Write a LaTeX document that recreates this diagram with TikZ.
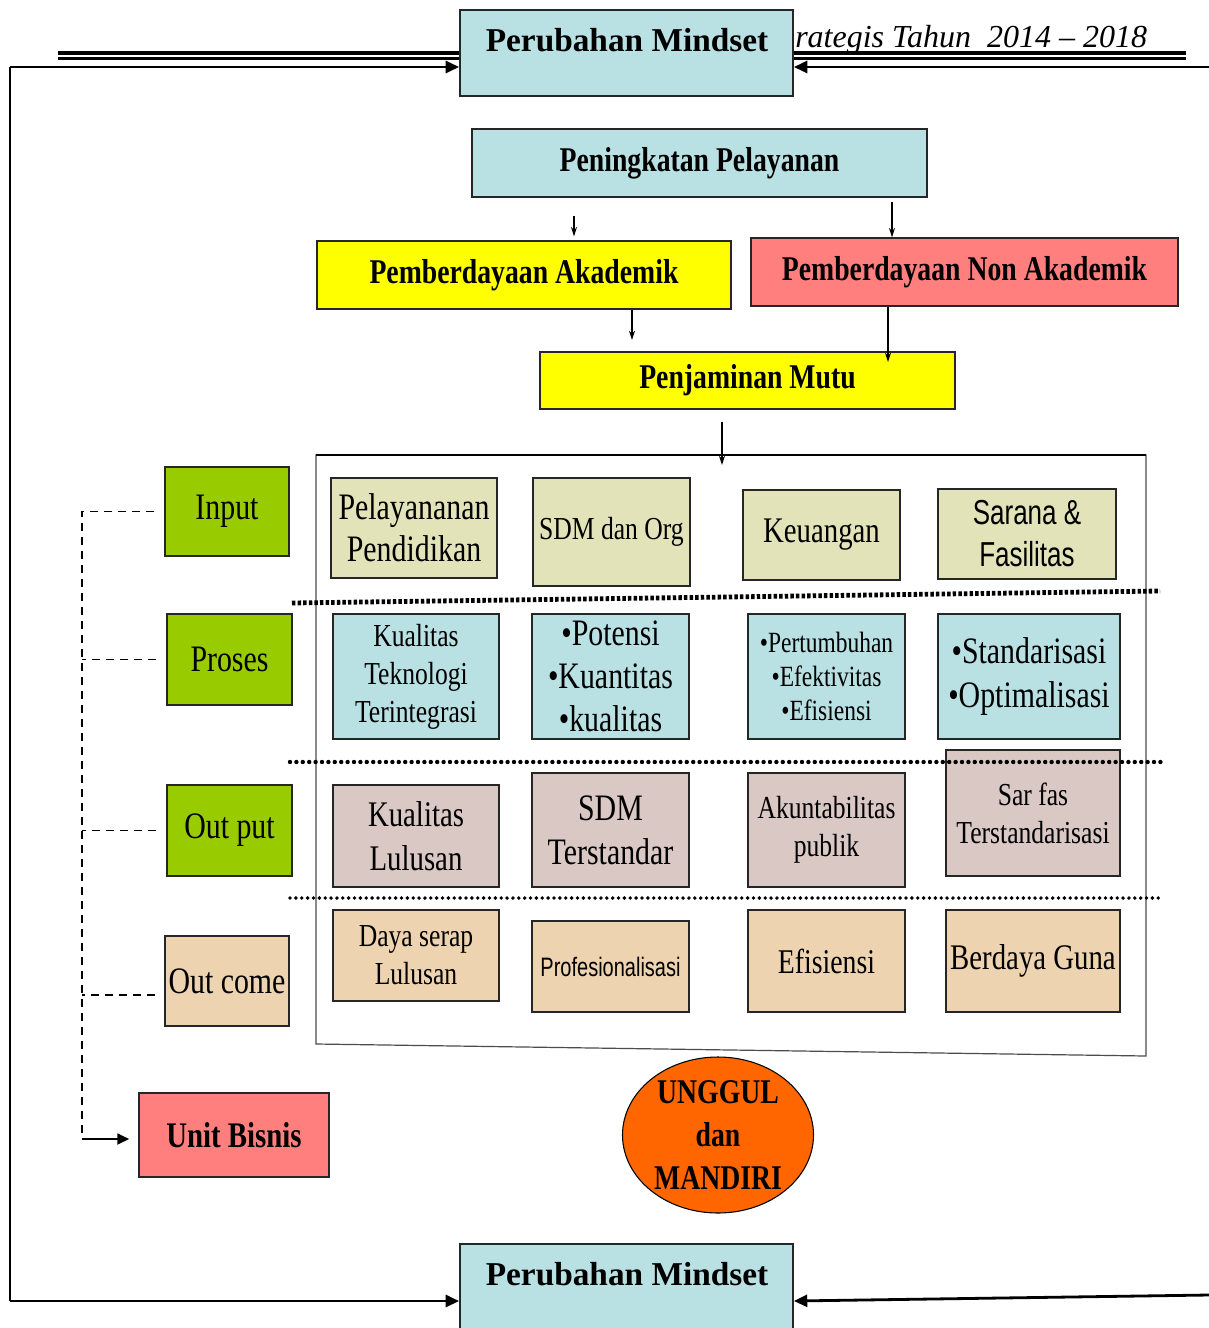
\documentclass[tikz,border=0pt]{standalone}
\usepackage{fontspec}
\setmainfont{Liberation Serif}
\newfontfamily\cond[FakeStretch=0.8]{Liberation Serif}
\newfontfamily\condsans[FakeStretch=0.75]{Liberation Sans}
\usetikzlibrary{arrows.meta,shapes.geometric}

\definecolor{cyanbox}{HTML}{B9E0E3}
\definecolor{olivebox}{HTML}{E3E3B9}
\definecolor{tanbox}{HTML}{EDD3AF}
\definecolor{mauvebox}{HTML}{D9C8C4}
\definecolor{greenbox}{HTML}{99CC00}
\definecolor{pinkbox}{HTML}{FF7F7F}
\definecolor{orangebox}{HTML}{FF6600}
\definecolor{yellowbox}{HTML}{FFFF00}

\newcommand\fsz[2]{\fontsize{#1}{#2}\selectfont}
\newcommand\bx[8]{\node[box,fill=#6,minimum width={(#4-#2)*0.75pt},minimum height={(#5-#3)*0.75pt},#7] (#1) at ({(#2+#4)/2},{(#3+#5)/2}) {#8};}

\begin{document}
\begin{tikzpicture}[x=0.75pt,y=-0.75pt,
  box/.style={draw=black!85,line width=1pt,inner sep=0pt,align=center,font=\cond},
  arr/.style={-{Stealth[length=7pt,width=4.5pt]},line width=0.8pt},
  bigarr/.style={-{Triangle[length=10pt,width=9pt]},line width=2.1pt},
  dashc/.style={dash pattern=on 6pt off 4.5pt,line width=1.4pt}]

\path[use as bounding box, fill=white] (0,0) rectangle (1209,1328);
\clip (0,0) rectangle (1209,1328);

% header rule and running title
\draw[line width=2.8pt] (58,53) -- (1186,53);
\draw[line width=1.6pt] (58,58.5) -- (1186,58.5);
\node[anchor=base west,font=\itshape\fsz{24}{28},inner sep=0pt] (hdr) at (795,47) {rategis Tahun\ \ 2014 – 2018};

% Perubahan Mindset boxes
\bx{pmtop}{460}{10}{793}{96}{cyanbox}{line width=1.4pt}{}
\node[font=\bfseries\fsz{25}{30}] (pmtoptxt) at (627,40) {Perubahan Mindset};
\bx{pmbot}{460}{1244}{793}{1340}{cyanbox}{line width=1.4pt}{}
\node[font=\bfseries\fsz{25}{30}] (pmbottxt) at (627,1274) {Perubahan Mindset};

% loop arrows
\coordinate (lt) at (10,67);
\coordinate (lb) at (10,1301);
\coordinate (rt) at (1209,67);
\coordinate (rb) at (1209,1295);
\draw[line width=2.1pt] (lt) -- (lb);
\draw[bigarr] (lt) -- (pmtop.west |- lt);
\draw[bigarr] (lb) -- (pmbot.west |- lb);
\draw[bigarr] (rt) -- (pmtop.east |- rt);
\coordinate (pmbe) at (pmbot.east |- lb);
\draw[bigarr] (rb) -- (pmbe);

% top chain
\bx{pp}{472}{129}{927}{197}{cyanbox}{font=\cond\bfseries\fsz{26}{30}}{Peningkatan Pelayanan}
\bx{pa}{317}{241}{731}{309}{yellowbox}{font=\cond\bfseries\fsz{26}{30}}{Pemberdayaan Akademik}
\bx{pna}{751}{238}{1178}{306}{pinkbox}{font=\cond\bfseries\fsz{26}{30}}{Pemberdayaan Non Akademik}
\bx{pmu}{540}{352}{955}{409}{yellowbox}{font=\cond\bfseries\fsz{26}{30}}{Penjaminan Mutu}

\coordinate (a1) at (574,0);
\coordinate (a2) at (892,0);
\coordinate (a3e) at (632,340);
\coordinate (a4e) at (888,362);
\coordinate (a5e) at (722,465);
\draw[arr,shorten <=13.5pt,shorten >=3pt] (pp.south -| a1) -- (pa.north -| a1);
\draw[arr,shorten <=3.5pt] (pp.south -| a2) -- (pna.north -| a2);
\draw[arr] (pa.south -| a3e) -- (a3e);
\draw[arr] (pna.south -| a4e) -- (a4e);
\draw[arr,shorten <=9pt] (pmu.south -| a5e) -- (a5e);

% big frame
\draw[line width=0.9pt,black!70] (316,455) -- (1146,455) -- (1146,1056) -- (316,1044) -- cycle;
\draw[line width=1.2pt] (316,455) -- (1146,455);

% left labels
\bx{inp}{165}{467}{289}{556}{greenbox}{font=\cond\fsz{28}{32}}{Input}
\bx{pro}{167}{614}{292}{705}{greenbox}{font=\cond\fsz{28}{32}}{Proses}
\bx{out}{167}{785}{292}{876}{greenbox}{font=\cond\fsz{28}{32}}{Out put}
\bx{oc}{165}{936}{289}{1026}{tanbox}{font=\cond\fsz{28}{32}}{Out come}
\bx{ub}{139}{1093}{329}{1177}{pinkbox}{font=\cond\bfseries\fsz{27}{32}}{Unit Bisnis}

% dashed bracket
\coordinate (dtop) at (82,516);
\coordinate (dbot) at (82,1139);
\coordinate (d4) at (82,995);
\coordinate (d4e) at (155,995);
\draw[dashc,shorten <=7.5pt] (inp.west) -- (inp.west -| dtop) -- (dbot);
\draw[dashc,shorten <=7.5pt] (pro.west) -- (pro.west -| dtop);
\draw[dashc,shorten <=7.5pt] (out.west) -- (out.west -| dtop);
\draw[dashc] (d4e) -- (d4);
\draw[-{Triangle[length=9pt,width=8pt]},line width=2pt,shorten >=6.75pt] (dbot) -- (ub.west |- dbot);

% input row
\bx{i1}{331}{478}{497}{578}{olivebox}{font=\cond\fsz{28}{31.5}}{Pelayananan\\Pendidikan}
\bx{i2}{533}{478}{690}{586}{olivebox}{font=\cond\fsz{24}{28}}{SDM dan Org}
\bx{i3}{743}{490}{900}{580}{olivebox}{font=\cond\fsz{27}{31}}{Keuangan}
\bx{i4}{938}{489}{1116}{579}{olivebox}{font=\condsans\fsz{26}{31.5}}{Sarana \&\\Fasilitas}

% process row
\bx{p1}{333}{614}{499}{739}{cyanbox}{font=\cond\fsz{24}{28.5}}{Kualitas\\Teknologi\\Terintegrasi}
\bx{p2}{532}{614}{689}{739}{cyanbox}{font=\cond\fsz{28}{32.3}}{•Potensi\\•Kuantitas\\•kualitas}
\bx{p3}{748}{614}{905}{739}{cyanbox}{font=\cond\fsz{22}{25.5}}{•Pertumbuhan\\•Efektivitas\\•Efisiensi}
\bx{p4}{938}{614}{1120}{739}{cyanbox}{font=\cond\fsz{28}{32.3}}{•Standarisasi\\•Optimalisasi}

% output row
\bx{o1}{333}{785}{499}{887}{mauvebox}{font=\cond\fsz{27}{33}}{Kualitas\\Lulusan}
\bx{o2}{532}{773}{689}{887}{mauvebox}{font=\cond\fsz{28}{33}}{SDM\\Terstandar}
\bx{o3}{748}{773}{905}{887}{mauvebox}{font=\cond\fsz{24}{28.5}}{Akuntabilitas\\publik}
\bx{o4}{946}{750}{1120}{876}{mauvebox}{font=\cond\fsz{24}{28.5}}{Sar fas\\Terstandarisasi}

% outcome row
\bx{c1}{333}{910}{499}{1001}{tanbox}{font=\cond\fsz{24}{28.5}}{Daya serap\\Lulusan}
\bx{c2}{532}{921}{689}{1012}{tanbox}{font=\condsans\fsz{20}{24}}{Profesionalisasi}
\bx{c3}{748}{910}{905}{1012}{tanbox}{font=\cond\fsz{26}{30}}{Efisiensi}
\bx{c4}{946}{910}{1120}{1012}{tanbox}{font=\cond\fsz{27}{31}}{Berdaya Guna}

% separators
\draw[line width=3.6pt,dash pattern=on 2.6pt off 1.6pt] (292,603) -- (1160,591);
\draw[line width=3.3pt,line cap=round,dash pattern=on 0pt off 4.8pt] (290,762) -- (1162,762);
\draw[line width=2.9pt,line cap=round,dash pattern=on 0pt off 4.4pt] (290,898) -- (1160,898);

% goal
\node[ellipse,draw=black,line width=0.8pt,fill=orangebox,minimum width={191*0.75pt},minimum height={156*0.75pt},inner sep=0pt,align=center,font=\cond\bfseries\fsz{26}{32.3}] (ung) at (718,1135) {UNGGUL\\dan\\MANDIRI};

\end{tikzpicture}
\end{document}
